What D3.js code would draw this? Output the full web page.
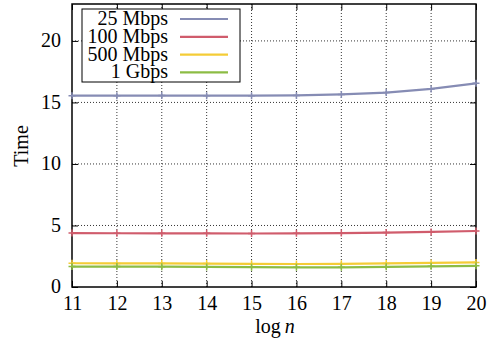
<!DOCTYPE html>
<html>
<head>
<meta charset="utf-8">
<script src="https://cdn.jsdelivr.net/npm/d3@7"></script>
<style>
  body { margin: 0; background: #fff; }
</style>
</head>
<body>
<svg id="chart" width="489" height="343"></svg>
<script>
// data
var logN = [11, 12, 13, 14, 15, 16, 17, 18, 19, 20];
var mbps25  = [15.55, 15.55, 15.56, 15.55, 15.55, 15.57, 15.65, 15.8, 16.1, 16.55];
var mbps100 = [4.38, 4.37, 4.36, 4.36, 4.35, 4.36, 4.38, 4.42, 4.48, 4.55];
var mbps500 = [1.93, 1.92, 1.92, 1.9, 1.88, 1.87, 1.88, 1.92, 1.96, 2.0];
var gbps1   = [1.66, 1.66, 1.65, 1.63, 1.61, 1.6, 1.6, 1.64, 1.68, 1.72];
var seriesNames = ["25 Mbps", "100 Mbps", "500 Mbps", "1 Gbps"];
var yTicks = [0, 5, 10, 15, 20];

var colors = ["#868cb4", "#d05c6c", "#f4cc36", "#8cbc44"];
var allSeries = [mbps25, mbps100, mbps500, gbps1];
var serif = "'Liberation Serif'";

var svg = d3.select("#chart");
var margin = {top: 4, right: 13, bottom: 56, left: 72};
var width = 489 - margin.left - margin.right;
var height = 343 - margin.top - margin.bottom;

var canvas = svg.append("g").attr("transform", "translate(" + margin.left + "," + margin.top + ")");

var xScale = d3.scaleLinear().domain([11, 20]).range([0, width]);
var yScale = d3.scaleLinear().domain([0, 23]).range([height, 0]);

// grid
canvas.append("g").selectAll("line").data(logN.slice(1, -1)).enter().append("line")
  .attr("x1", function(d){ return xScale(d); }).attr("x2", function(d){ return xScale(d); })
  .attr("y1", 0).attr("y2", height)
  .attr("stroke", "#000").attr("stroke-width", 0.8).attr("stroke-dasharray", "1,2");
canvas.append("g").selectAll("line").data(yTicks.slice(1)).enter().append("line")
  .attr("x1", 0).attr("x2", width)
  .attr("y1", function(d){ return yScale(d); }).attr("y2", function(d){ return yScale(d); })
  .attr("stroke", "#000").attr("stroke-width", 0.8).attr("stroke-dasharray", "1,2");

// axes with inward ticks
var xAxis = d3.axisBottom(xScale).tickValues(logN).tickSizeInner(-6).tickSizeOuter(0).tickPadding(9);
var xAxisTop = d3.axisTop(xScale).tickValues(logN).tickSizeInner(-6).tickSizeOuter(0).tickFormat("");
var yAxis = d3.axisLeft(yScale).tickValues(yTicks).tickSizeInner(-6).tickSizeOuter(0).tickPadding(11);
var yAxisRight = d3.axisRight(yScale).tickValues(yTicks).tickSizeInner(-6).tickSizeOuter(0).tickFormat("");

var xg = canvas.append("g").attr("transform", "translate(0," + height + ")").call(xAxis);
canvas.append("g").call(xAxisTop);
var yg = canvas.append("g").call(yAxis);
canvas.append("g").attr("transform", "translate(" + width + ",0)").call(yAxisRight);

canvas.selectAll(".domain").remove();
canvas.selectAll(".tick line").attr("stroke", "#000").attr("stroke-width", 1);
xg.selectAll("text").attr("font-family", serif).attr("font-size", 20).attr("dy", "0.71em").attr("fill", "#000");
yg.selectAll("text").attr("font-family", serif).attr("font-size", 20).attr("dy", "0.28em").attr("fill", "#000");

canvas.append("rect").attr("x", 0).attr("y", 0).attr("width", width).attr("height", height)
  .attr("fill", "none").attr("stroke", "#000").attr("stroke-width", 1.5);

// lines
var line = d3.line()
  .x(function(d, i){ return xScale(logN[i]); })
  .y(function(d){ return yScale(d); });

allSeries.forEach(function(s, k){
  canvas.append("path").datum(s)
    .attr("d", line)
    .attr("fill", "none")
    .attr("stroke", colors[k])
    .attr("stroke-width", 2.2);
  canvas.append("g").selectAll("path").data(s).enter().append("path")
    .attr("d", function(d, i){
      var x = xScale(logN[i]), y = yScale(d);
      return "M" + (x - 3.5) + "," + y + "H" + (x + 3.5) + "M" + x + "," + (y - 3.5) + "V" + (y + 3.5);
    })
    .attr("stroke", colors[k]).attr("stroke-width", 1.5);
});

// legend
var legend = canvas.append("g").attr("transform", "translate(10,5)");
legend.append("rect").attr("x", 0).attr("y", 0).attr("width", 158).attr("height", 73)
  .attr("fill", "#fff").attr("stroke", "#000").attr("stroke-width", 1);
seriesNames.forEach(function(name, k){
  var y = 10 + k * 17.8;
  legend.append("text").attr("x", 86).attr("y", y + 6)
    .attr("text-anchor", "end").attr("font-size", 20).attr("font-family", serif).text(name);
  legend.append("line").attr("x1", 98).attr("x2", 146).attr("y1", y).attr("y2", y)
    .attr("stroke", colors[k]).attr("stroke-width", 2.2);
});

// axis labels
var xl = svg.append("text").attr("x", 275).attr("y", 333)
  .attr("text-anchor", "middle").attr("font-size", 20).attr("font-family", serif);
xl.append("tspan").text("log\u2009");
xl.append("tspan").attr("font-style", "italic").text("n");

svg.append("text").attr("transform", "translate(28,146) rotate(-90)")
  .attr("text-anchor", "middle").attr("font-size", 20).attr("font-family", serif).text("Time");
</script>
</body>
</html>
